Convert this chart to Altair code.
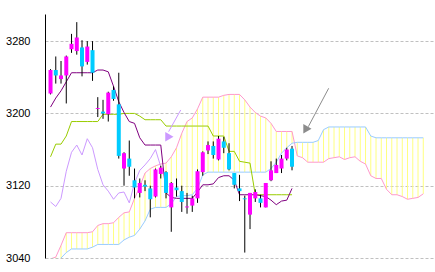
import altair as alt
import pandas as pd

# ---- candle data (index 0..46) ----
opens  = [3222, 3248, 3238, 3242, 3271, 3269, 3273, 3257, 3270, 3205,
          3202, 3199, 3226, 3210, 3139, 3150, 3126, 3112, 3121, 3117,
          3108, 3133, 3135, 3096, 3118, 3114, 3096, 3098, 3106, 3135,
          3159, 3164, 3149, 3169, 3156, 3134, 3117, 3106, 3088, 3106,
          3106, 3096, 3126, 3134, 3139, 3150, 3161]
highs  = [3249, 3263, 3258, 3264, 3288, 3301, 3281, 3280, 3280, 3218,
          3215, 3224, 3230, 3245, 3157, 3170, 3139, 3128, 3126, 3120,
          3139, 3142, 3136, 3124, 3128, 3120, 3112, 3109, 3138, 3158,
          3169, 3169, 3175, 3174, 3167, 3134, 3132, 3109, 3112, 3116,
          3110, 3123, 3147, 3150, 3154, 3162, 3164]
lows   = [3221, 3233, 3233, 3211, 3267, 3265, 3241, 3254, 3236, 3196,
          3194, 3191, 3214, 3150, 3120, 3131, 3106, 3107, 3114, 3085,
          3107, 3128, 3106, 3069, 3108, 3091, 3089, 3091, 3101, 3131,
          3155, 3150, 3148, 3156, 3137, 3117, 3103, 3046, 3072, 3102,
          3096, 3096, 3125, 3134, 3134, 3148, 3137]
closes = [3248, 3242, 3242, 3263, 3277, 3284, 3252, 3274, 3245, 3206,
          3200, 3223, 3216, 3153, 3156, 3141, 3118, 3123, 3119, 3105,
          3138, 3140, 3112, 3123, 3115, 3102, 3097, 3106, 3136, 3157,
          3165, 3154, 3172, 3162, 3138, 3121, 3114, 3105, 3112, 3113,
          3101, 3123, 3137, 3143, 3150, 3160, 3141]

# ---- indicator lines ----
tenkan = [3207, 3217, 3225, 3235, 3245, 3245, 3245, 3245, 3245, 3248,
          3248, 3246, 3230, 3213, 3201, 3191, 3189, 3173, 3165, 3165,
          3165, 3165, 3112, 3107, 3106, 3106, 3106, 3106, 3113, 3121,
          3121, 3122, 3129, 3131, 3131, 3126, 3110, 3110, 3110, 3110,
          3109, 3108, 3104, 3099, 3103, 3104, 3117]
kijun  = [3152, 3166, 3166, 3175, 3191, 3191, 3191, 3191, 3191, 3191,
          3199, 3199, 3199, 3199, 3200, 3200, 3200, 3197, 3193, 3193,
          3193, 3193, 3186, 3186, 3186, 3186, 3186, 3186, 3186, 3186,
          3186, 3175, 3175, 3175, 3158, 3158, 3147, 3146, 3145, 3110,
          3110, 3110, 3110, 3110, 3110, 3110, 3110]
chikou = [3102, 3097, 3106, 3136, 3157, 3165, 3154, 3172, 3162, 3138,
          3121, 3114, 3105, 3112, 3113, 3101, 3123, 3137, 3143, 3150,
          3160, 3141]
span_pink = [3039, 3041, 3054, 3068, 3068, 3068, 3068, 3068, 3069, 3076,
             3078, 3078, 3079, 3085, 3090, 3091, 3106, 3119, 3134, 3139,
             3142, 3144, 3145, 3152, 3162, 3178, 3191, 3195, 3205, 3218,
             3218, 3218, 3218, 3220, 3221, 3221, 3221, 3215, 3207, 3201,
             3197, 3195, 3189, 3180, 3180, 3180, 3180, 3153, 3151, 3146,
             3146, 3146, 3146, 3150, 3151, 3152, 3149, 3151, 3152, 3147,
             3144, 3131, 3128, 3128, 3116, 3110, 3110, 3108, 3105, 3106,
             3107, 3111]
span_blue = [3028, 3034, 3040, 3046, 3050, 3050, 3050, 3050, 3052, 3055,
             3055, 3055, 3055, 3055, 3060, 3063, 3065, 3072, 3081, 3094,
             3096, 3096, 3096, 3100, 3108, 3109, 3109, 3110, 3117, 3132,
             3135, 3135, 3135, 3135, 3135, 3135, 3135, 3135, 3135, 3135,
             3135, 3135, 3139, 3146, 3156, 3162, 3167, 3168, 3168, 3168,
             3168, 3170, 3182, 3185, 3185, 3185, 3185, 3185, 3185, 3185,
             3185, 3175, 3173, 3173, 3173, 3173, 3173, 3173, 3173, 3173,
             3173, 3173]
y_ticks = [3040, 3120, 3200, 3280]

# ---- annotation arrows (data units) ----
arrow_x  = [24.8, 52.98]
arrow_y  = [3203.8, 3227.8]
arrow_x2 = [22.5, 49.1]
arrow_y2 = [3179.8, 3185.3]
head_x   = [22.64, 48.93]
head_y   = [3174.2, 3183.1]
arrow_colors = ["#cc99ff", "#8c8c8c"]

n = len(opens)
candles = pd.DataFrame({
    "i": list(range(n)), "open": opens, "high": highs, "low": lows, "close": closes,
})
candles["lo"] = candles[["open", "close"]].min(axis=1)
candles["hi"] = candles[["open", "close"]].max(axis=1)
candles["dir"] = ["up" if c >= o else "down" for o, c in zip(opens, closes)]

lines_df = pd.DataFrame({"i": list(range(n)), "tenkan": tenkan, "kijun": kijun})
chikou_df = pd.DataFrame({"i": list(range(len(chikou))), "v": chikou})
cloud = pd.DataFrame({"i": list(range(len(span_pink))), "a": span_pink, "b": span_blue})
arrows = pd.DataFrame({"x": arrow_x, "y": arrow_y, "x2": arrow_x2, "y2": arrow_y2,
                       "hx": head_x, "hy": head_y, "c": arrow_colors})

xs = alt.Scale(domain=[-0.1, 71.9], nice=False, zero=False)
ys = alt.Scale(domain=[3040, 3310], nice=False, zero=False)

def X(f):
    return alt.X(f, type="quantitative", scale=xs, axis=None)

yaxis = alt.Axis(values=y_ticks, format="d", title=None, grid=True,
                 gridColor="#c0c0c0", gridDash=[3, 2], gridWidth=1,
                 ticks=False, domain=True, domainColor="#000000", domainWidth=1,
                 labelFont="Liberation Sans", labelFontSize=11, labelColor="#000000",
                 labelPadding=15)

def Y(f):
    return alt.Y(f, type="quantitative", scale=ys, axis=yaxis)

hatch = alt.Chart(cloud).mark_rule(color="#ffff80", strokeWidth=1, clip=True).encode(
    x=X("i"), y=Y("a"), y2="b")
pink = alt.Chart(cloud).mark_line(color="#ff99cc", strokeWidth=1, clip=True).encode(
    x=X("i"), y=Y("a"))
blue = alt.Chart(cloud).mark_line(color="#99ccff", strokeWidth=1, clip=True).encode(
    x=X("i"), y=Y("b"))
chik = alt.Chart(chikou_df).mark_line(color="#cc99ff", strokeWidth=1, clip=True).encode(
    x=X("i"), y=Y("v"))
kij = alt.Chart(lines_df).mark_line(color="#99cc00", strokeWidth=1, clip=True).encode(
    x=X("i"), y=Y("kijun"))
ten = alt.Chart(lines_df).mark_line(color="#800080", strokeWidth=1, clip=True).encode(
    x=X("i"), y=Y("tenkan"))
wick = alt.Chart(candles).mark_rule(color="#000000", strokeWidth=1, clip=True).encode(
    x=X("i"), y=Y("low"), y2="high")
body = alt.Chart(candles).mark_bar(size=4, clip=True).encode(
    x=X("i"), y=Y("lo"), y2="hi",
    color=alt.Color("dir:N", scale=alt.Scale(domain=["up", "down"],
                                              range=["#ff00ff", "#00ccff"]), legend=None))
shaft = alt.Chart(arrows).mark_rule(strokeWidth=1).encode(
    x=X("x"), y=Y("y"), x2="x2", y2="y2",
    color=alt.Color("c:N", scale=None))
head = alt.Chart(arrows).mark_point(shape="triangle-right", filled=True, size=90, opacity=1).encode(
    x=X("hx"), y=Y("hy"), color=alt.Color("c:N", scale=None))

chart = alt.layer(hatch, pink, blue, chik, kij, ten, wick, body, shaft, head).properties(
    width=388, height=244,
    autosize=alt.AutoSizeParams(type="none"),
    padding={"left": 45, "top": 14, "right": 2, "bottom": 14},
    background="#ffffff",
).configure_view(stroke=None)

chart.save("out.html", embed_options={"renderer": "svg", "actions": False})
